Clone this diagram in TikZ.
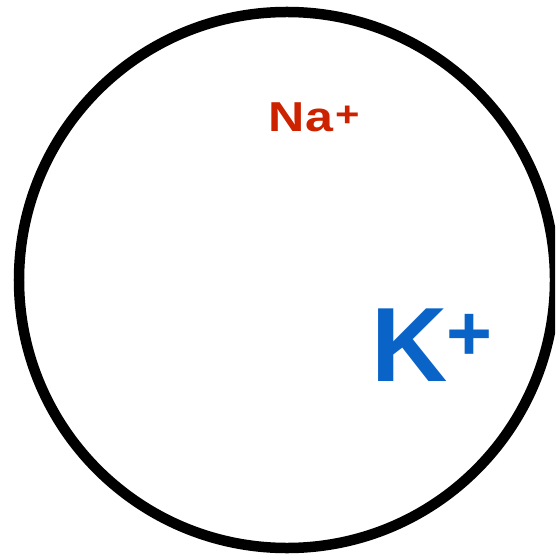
\documentclass[tikz,border=0pt]{standalone}
\usepackage{fontspec}
\setmainfont{Liberation Sans}
\definecolor{narot}{RGB}{204,34,0}
\definecolor{kblau}{RGB}{10,100,200}
\tikzset{ion/.style={anchor=base west, inner sep=0pt, font=\bfseries}}
\begin{document}
\begin{tikzpicture}[x=1bp,y=-1bp]
    \useasboundingbox (0,0) rectangle (555,555);
    \clip (0,0) rectangle (555,555);

    % Cell membrane
    \draw[line width=10.5bp] (287,280) circle (268bp);

    % Ions
    \node[ion, text=narot] (na) at (268.6,131.7)
        {\scalebox{1.2}[1]{\fontsize{42}{42}\selectfont Na\kern2.5bp\raisebox{5bp}{\fontsize{35}{35}\selectfont+}}};
    \node[ion, text=kblau] (k) at (371,381)
        {\fontsize{106}{106}\selectfont K\kern-1bp\raisebox{20.5bp}{\fontsize{79}{79}\selectfont+}};
\end{tikzpicture}
\end{document}
